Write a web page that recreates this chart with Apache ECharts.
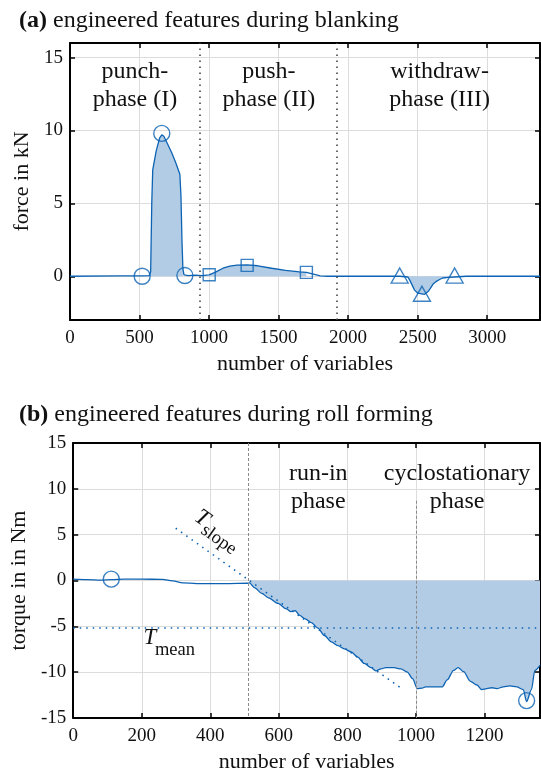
<!DOCTYPE html>
<html>
<head>
<meta charset="utf-8">
<script src="https://cdn.jsdelivr.net/npm/echarts@6/dist/echarts.min.js"></script>
<style>
  html, body { margin: 0; padding: 0; background: #fff; }
  #c { width: 541px; height: 774px; }
</style>
</head>
<body>
<div id="c"></div>
<script>
// ---- (a) blanking: force signal ----
const forceX = [0, 350, 519, 570, 580, 588, 595, 620, 645, 660, 675, 700, 730, 760, 790, 798, 805, 812, 820, 826,
  850, 900, 950, 1001, 1050, 1100, 1150, 1200, 1274, 1350, 1450, 1550, 1650, 1700, 1750, 1800, 1850,
  2371, 2430, 2445, 2478, 2500, 2514, 2550, 2575, 2590, 2610, 2635, 2658, 2680, 2720, 2766, 2850, 3380];
const forceY = [0, 0.02, 0.02, 0.05, 0.3, 5.0, 7.3, 8.6, 9.5, 9.7, 9.6, 9.1, 8.5, 7.8, 7.0, 5.5, 2.5, 0.5, 0.1, 0.05,
  0.05, 0.08, 0.05, 0.1, 0.3, 0.55, 0.7, 0.77, 0.78, 0.72, 0.55, 0.4, 0.3, 0.27, 0.15, 0.03, 0,
  0, -0.05, -0.3, -0.95, -1.15, -1.24, -1.24, -1.05, -0.85, -0.55, -0.35, -0.22, -0.12, -0.08, -0.05, 0, 0];
const forceFillRanges = [[519, 826], [1001, 1700], [2371, 2766]];
const forceCircleX = [519, 660, 826];
const forceCircleY = [0, 9.8, 0.05];
const forceSquareX = [1001, 1274, 1700];
const forceSquareY = [0.1, 0.75, 0.27];
const forceTriangleX = [2371, 2531, 2766];
const forceTriangleY = [0.05, -1.2, 0.05];
const blankPhaseBounds = [934, 1916];
const blankPhaseLabels = ['punch-\nphase (I)', 'push-\nphase (II)', 'withdraw-\nphase (III)'];
const blankPhaseLabelX = [467, 1430, 2658];
const blankPhaseLabelY = 13.1;

// ---- (b) roll forming: torque signal ----
const torqueX = [0, 40, 80, 111, 150, 200, 260, 290, 320, 360, 450, 510, 514, 530, 550, 570, 598, 622, 635, 648,
  661, 675, 695, 714, 733, 753, 772, 791, 811, 830, 849, 869, 883, 898, 912, 936, 956, 975, 990, 1004,
  1018, 1028, 1077, 1091, 1110, 1123, 1139, 1159, 1178, 1192, 1207, 1221, 1236, 1255, 1274, 1294, 1313,
  1323, 1337, 1347, 1362];
const torqueY = [0.15, 0.1, 0.05, 0.1, 0.15, 0.15, 0.12, -0.05, -0.25, -0.33, -0.33, -0.3, -0.25, -0.8, -1.4, -1.9, -2.5, -3.1, -3.4, -3.3,
  -3.8, -4.15, -4.6, -5.2, -6.0, -6.7, -7.1, -7.45, -7.8, -8.35, -9.05, -9.5, -9.85, -9.65, -9.5, -9.5, -9.65, -10.0, -10.7, -11.8,
  -11.75, -11.6, -11.6, -10.85, -9.8, -9.5, -9.95, -11.0, -11.4, -11.9, -11.8, -11.7, -11.8, -11.6, -11.5, -11.6, -11.9,
  -13.2, -11.9, -9.8, -9.25];
const torqueFillRange = [514, 1362];
const torqueCircleX = [111, 1323];
const torqueCircleY = [0.15, -13.1];
const runInStart = 512;
const cycloStart = 1000;
const cycloLineTop = 8.7;
const slopeStart = [299, 5.7];
const slopeEnd = [955, -11.7];
const meanTorque = -5.15;
const rollPhaseLabels = ['run-in\nphase', 'cyclostationary\nphase'];
const rollPhaseLabelX = [715, 1120];
const rollPhaseLabelY = 10.1;
const slopeLabelAt = [376, 6.8];
const meanLabelAt = [224, -6.26];

// ---- styling ----
const BLUE = '#0d63b3';
const FILL = '#b3cce5';
const SERIF = '"Liberation Serif", "DejaVu Serif", serif';

const pairs = (xs, ys) => xs.map((x, i) => [x, ys[i]]);
const within = (xs, ys, lo, hi) => pairs(xs, ys).filter(p => p[0] >= lo && p[0] <= hi);
const plain = v => String(v);

function frameX(gridIndex, min, max, interval, name, bottom) {
  return {
    type: 'value', gridIndex, min, max, interval,
    position: bottom ? 'bottom' : 'top',
    name: bottom ? name : '', nameLocation: 'middle', nameGap: 33,
    nameTextStyle: { fontFamily: SERIF, fontSize: 22, color: '#111' },
    axisLine: { show: true, onZero: false, lineStyle: { color: '#000', width: 2 } },
    axisTick: { show: true, inside: true, length: 5, lineStyle: { color: '#000', width: 1.5 } },
    axisLabel: { show: bottom, showMaxLabel: false, margin: 9, formatter: plain,
      fontFamily: SERIF, fontSize: 19, color: '#111' },
    splitLine: { show: bottom, lineStyle: { color: '#dcdcdc', width: 1 } }
  };
}
function frameY(gridIndex, min, max, extra, name, left, gap, hideEnds) {
  return Object.assign({
    type: 'value', gridIndex, min, max,
    position: left ? 'left' : 'right',
    name: left ? name : '', nameLocation: 'middle', nameGap: gap,
    nameTextStyle: { fontFamily: SERIF, fontSize: 22, color: '#111' },
    axisLine: { show: true, onZero: false, lineStyle: { color: '#000', width: 2 } },
    axisTick: { show: true, inside: true, length: 5, lineStyle: { color: '#000', width: 1.5 } },
    axisLabel: { show: left, margin: 7, formatter: plain, showMinLabel: !hideEnds, showMaxLabel: !hideEnds,
      fontFamily: SERIF, fontSize: 19, color: '#111' },
    splitLine: { show: left, lineStyle: { color: '#dcdcdc', width: 1 } }
  }, extra);
}
function markers(xAxisIndex, yAxisIndex, xs, ys, symbol, size) {
  return {
    type: 'scatter', xAxisIndex, yAxisIndex, data: pairs(xs, ys), symbol, symbolSize: size, z: 5,
    itemStyle: { color: 'rgba(0,0,0,0)', borderColor: BLUE, borderWidth: 1.4 }, silent: true
  };
}
function fillSeries(xAxisIndex, yAxisIndex, data, smooth) {
  return {
    type: 'line', xAxisIndex, yAxisIndex, data, showSymbol: false, smooth, smoothMonotone: 'x', z: 1,
    lineStyle: { width: 0 }, areaStyle: { color: FILL, opacity: 1 }, silent: true
  };
}

const chart = echarts.init(document.getElementById('c'), null, { renderer: 'canvas' });

const titleStyle = {
  fontFamily: SERIF, fontSize: 24, fontWeight: 'normal', color: '#111',
  rich: { b: { fontFamily: SERIF, fontSize: 24, fontWeight: 'bold', color: '#111' } }
};
const option = {
  animation: false,
  title: [
    { text: '{b|(a)} engineered features during blanking', left: 14, top: 4, textStyle: titleStyle },
    { text: '{b|(b)} engineered features during roll forming', left: 14, top: 398, textStyle: titleStyle }
  ],
  grid: [
    { left: 70, right: 1, top: 43, height: 277 },
    { left: 70, right: 1, top: 443, height: 277 }
  ],
  xAxis: [
    frameX(0, 0, 3380, 500, 'number of variables', true),
    frameX(0, 0, 3380, 500, '', false),
    frameX(1, 0, 1362, 200, 'number of variables', true),
    frameX(1, 0, 1362, 200, '', false)
  ],
  yAxis: [
    frameY(0, -3, 16, { splitNumber: 4 }, 'force in kN', true, 31, true),
    frameY(0, -3, 16, { splitNumber: 4 }, '', false, 0, true),
    frameY(1, -15, 15, { interval: 5 }, 'torque in in Nm', true, 36, false),
    frameY(1, -15, 15, { interval: 5 }, '', false, 0, false)
  ],
  series: [
    // (a) filled areas between the feature markers
    ...forceFillRanges.map(r => fillSeries(0, 0, within(forceX, forceY, r[0], r[1]), false)),
    {
      type: 'line', xAxisIndex: 0, yAxisIndex: 0, data: pairs(forceX, forceY), showSymbol: false, z: 3,
      lineStyle: { color: BLUE, width: 1.3 }, silent: true,
      markLine: {
        silent: true, symbol: 'none', label: { show: false },
        lineStyle: { color: '#444', width: 1.6, type: [1.5, 4.5] },
        data: blankPhaseBounds.map(v => ({ xAxis: v }))
      }
    },
    markers(0, 0, forceCircleX, forceCircleY, 'circle', 16),
    markers(0, 0, forceSquareX, forceSquareY, 'rect', 12),
    markers(0, 0, forceTriangleX, forceTriangleY, 'triangle', [17, 15]),

    // (b) filled area of the run-in and cyclostationary part
    fillSeries(2, 2, within(torqueX, torqueY, torqueFillRange[0], torqueFillRange[1]), 0.3),
    {
      type: 'line', xAxisIndex: 2, yAxisIndex: 2, data: pairs(torqueX, torqueY), showSymbol: false, z: 3,
      smooth: 0.3, smoothMonotone: 'x',
      lineStyle: { color: BLUE, width: 1.3 }, silent: true,
      markLine: {
        silent: true, symbol: 'none', label: { show: false },
        data: [
          [{ coord: [runInStart, 15], lineStyle: { color: '#8a8a8a', width: 1, type: [3, 2] } }, { coord: [runInStart, -15] }],
          [{ coord: [cycloStart, cycloLineTop], lineStyle: { color: '#8a8a8a', width: 1, type: [3, 2] } }, { coord: [cycloStart, -15] }],
          [{ coord: slopeStart, lineStyle: { color: BLUE, width: 1.6, type: [1.5, 5] } }, { coord: slopeEnd }],
          [{ coord: [0, meanTorque], lineStyle: { color: BLUE, width: 1.6, type: [1.5, 5] } }, { coord: [1362, meanTorque] }]
        ]
      }
    },
    markers(2, 2, torqueCircleX, torqueCircleY, 'circle', 16)
  ]
};
chart.setOption(option);

// ---- text annotations placed in data coordinates ----
const px = (g, p) => chart.convertToPixel({ xAxisIndex: g * 2, yAxisIndex: g * 2 }, p);
const phaseText = (g, label, x, y) => {
  const p = px(g, [x, y]);
  return {
    type: 'text', x: p[0], y: p[1], z: 10, silent: true,
    style: { text: label, fontFamily: SERIF, fontSize: 24, lineHeight: 28, fill: '#111',
      align: 'center', verticalAlign: 'middle' }
  };
};
const graphics = [];
blankPhaseLabels.forEach((t, i) => graphics.push(phaseText(0, t, blankPhaseLabelX[i], blankPhaseLabelY)));
rollPhaseLabels.forEach((t, i) => graphics.push(phaseText(1, t, rollPhaseLabelX[i], rollPhaseLabelY)));

const symText = (g, at, sub, subOffset, rotation) => {
  const p = px(g, at);
  return {
    type: 'group', x: p[0], y: p[1], rotation, z: 10, silent: true,
    children: [
      { type: 'text', x: 0, y: 0, style: { text: 'T', fontFamily: SERIF, fontStyle: 'italic', fontSize: 23,
        fill: '#111', align: 'center', verticalAlign: 'middle' } },
      { type: 'text', x: subOffset[0], y: subOffset[1], style: { text: sub, fontFamily: SERIF, fontSize: 18.5,
        fill: '#111', align: 'center', verticalAlign: 'middle' } }
    ]
  };
};
const s0 = px(1, slopeStart), s1 = px(1, slopeEnd);
const slopeAngle = -Math.atan2(s1[1] - s0[1], s1[0] - s0[0]);
graphics.push(symText(1, slopeLabelAt, 'slope', [26, 8], slopeAngle));
graphics.push(symText(1, meanLabelAt, 'mean', [25, 12], 0));
chart.setOption({ graphic: graphics });
</script>
</body>
</html>
